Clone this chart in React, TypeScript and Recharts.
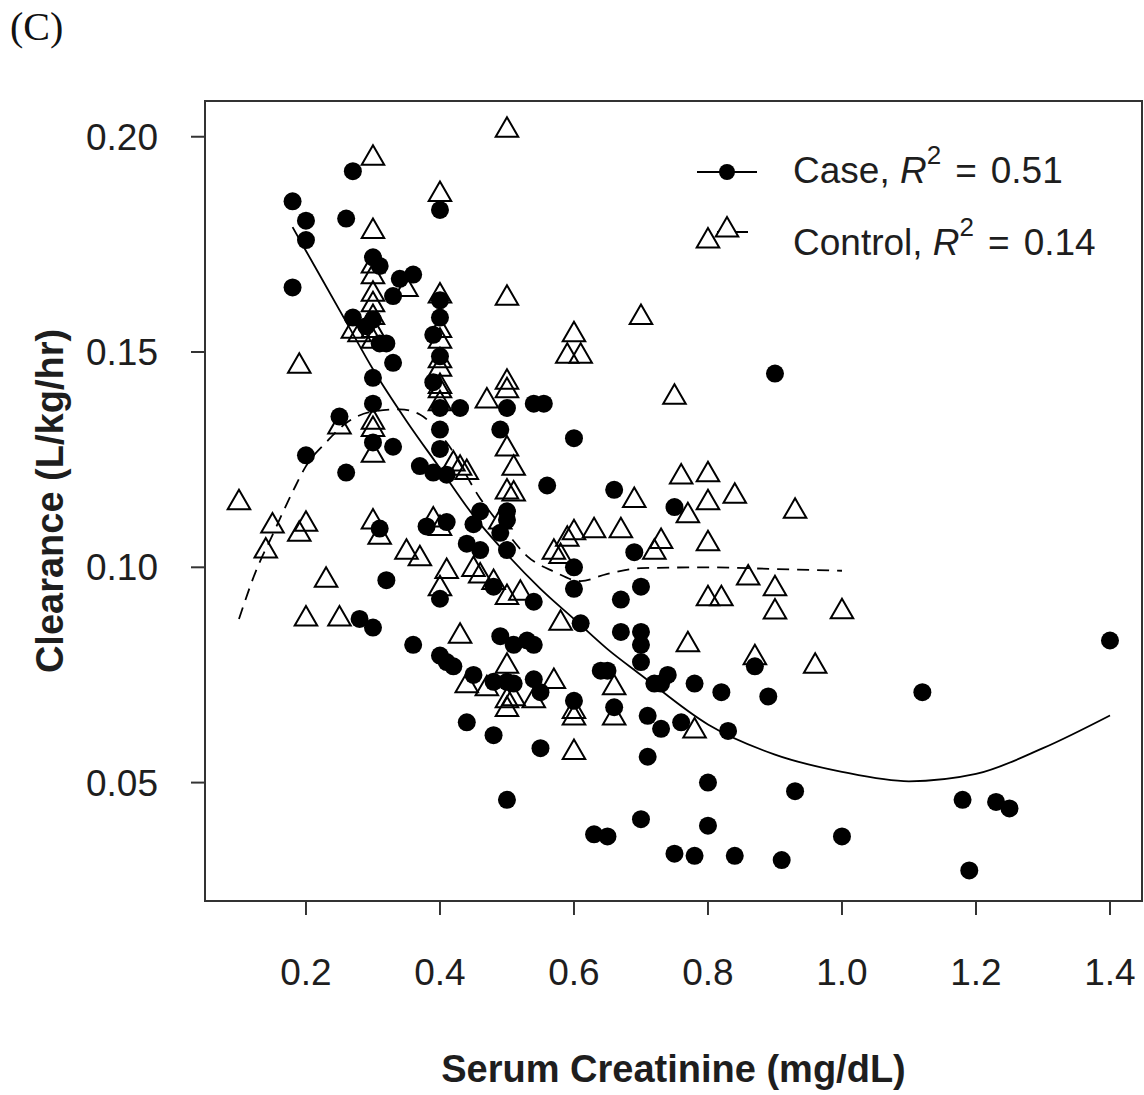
import { Legend, ReferenceArea, Scatter, ScatterChart, XAxis, YAxis } from "recharts";

// Case (filled circles)
const caseX = [
  0.18, 0.2, 0.2, 0.18, 0.27, 0.26, 0.4, 0.3, 0.31, 0.34, 0.36, 0.33, 0.27, 0.29, 0.3, 0.31, 0.32, 0.33, 0.3,
  0.4, 0.4, 0.39, 0.4, 0.39, 0.4, 0.43, 0.3, 0.25, 0.4, 0.49, 0.3, 0.33, 0.4, 0.2, 0.26, 0.37, 0.39, 0.41,
  0.5, 0.54, 0.555, 0.6, 0.9, 0.56, 0.66, 0.75, 0.46, 0.45, 0.5, 0.5, 0.49, 0.5, 0.31, 0.38, 0.41, 0.44,
  0.46, 0.69, 0.6, 0.32, 0.48, 0.6, 0.7, 0.4, 0.54, 0.67, 0.28, 0.3, 0.61, 0.49, 0.51, 0.53, 0.54, 0.67,
  0.7, 0.7, 0.7, 0.36, 0.4, 0.41, 0.42, 0.45, 0.48, 0.5, 0.51, 0.54, 0.55, 0.64, 0.65, 0.72, 0.73, 0.74,
  0.78, 0.82, 0.87, 0.89, 0.6, 0.66, 0.71, 0.73, 0.76, 0.83, 0.44, 0.48, 0.55, 0.71, 0.5, 0.8, 0.93, 0.63,
  0.65, 0.7, 0.8, 0.75, 0.78, 0.84, 0.91, 1.0, 1.12, 1.18, 1.23, 1.25, 1.19, 1.4,
];
const caseY = [
  0.185, 0.1805, 0.176, 0.165, 0.192, 0.181, 0.183, 0.172, 0.17, 0.167, 0.168, 0.163, 0.158, 0.156, 0.1575,
  0.152, 0.152, 0.1475, 0.144, 0.162, 0.158, 0.154, 0.149, 0.143, 0.137, 0.137, 0.138, 0.135, 0.132, 0.132,
  0.129, 0.128, 0.1275, 0.126, 0.122, 0.1235, 0.122, 0.1215, 0.137, 0.138, 0.138, 0.13, 0.145, 0.119, 0.118,
  0.114, 0.113, 0.11, 0.113, 0.111, 0.108, 0.104, 0.109, 0.1095, 0.1105, 0.1055, 0.104, 0.1035, 0.1, 0.097,
  0.0955, 0.095, 0.0955, 0.0927, 0.092, 0.0925, 0.088, 0.086, 0.087, 0.084, 0.082, 0.083, 0.082, 0.085,
  0.085, 0.082, 0.078, 0.082, 0.0795, 0.078, 0.077, 0.075, 0.0734, 0.0734, 0.073, 0.074, 0.071, 0.076, 0.076,
  0.073, 0.073, 0.075, 0.073, 0.071, 0.077, 0.07, 0.069, 0.0675, 0.0655, 0.0625, 0.064, 0.062, 0.064, 0.061,
  0.058, 0.056, 0.046, 0.05, 0.048, 0.038, 0.0375, 0.0415, 0.04, 0.0335, 0.033, 0.033, 0.032, 0.0375, 0.071,
  0.046, 0.0455, 0.044, 0.0296, 0.083,
];

// Control (open triangles)
const controlX = [
  0.5, 0.3, 0.4, 0.3, 0.8, 0.3, 0.3, 0.35, 0.3, 0.3, 0.4, 0.5, 0.7, 0.6, 0.59, 0.61, 0.27, 0.28, 0.3, 0.4,
  0.4, 0.19, 0.4, 0.4, 0.4, 0.47, 0.5, 0.5, 0.75, 0.3, 0.3, 0.25, 0.3, 0.5, 0.42, 0.43, 0.44, 0.51, 0.5,
  0.51, 0.76, 0.8, 0.69, 0.8, 0.77, 0.84, 0.93, 0.1, 0.15, 0.2, 0.19, 0.14, 0.3, 0.31, 0.39, 0.4, 0.49,
  0.35, 0.37, 0.57, 0.58, 0.6, 0.63, 0.67, 0.59, 0.73, 0.72, 0.8, 0.23, 0.41, 0.45, 0.46, 0.48, 0.4, 0.86,
  0.9, 0.9, 0.8, 0.82, 1.0, 0.5, 0.52, 0.2, 0.25, 0.58, 0.43, 0.77, 0.87, 0.96, 0.5, 0.57, 0.66, 0.44,
  0.47, 0.5, 0.51, 0.5, 0.54, 0.6, 0.6, 0.66, 0.78, 0.6, 0.3, 0.3, 0.4, 0.4,
];
const controlY = [
  0.2015, 0.195, 0.1866, 0.178, 0.1758, 0.17, 0.1675, 0.1645, 0.1634, 0.161, 0.163, 0.1625, 0.158, 0.154,
  0.149, 0.149, 0.1548, 0.154, 0.1525, 0.155, 0.1525, 0.1467, 0.146, 0.142, 0.138, 0.1386, 0.143, 0.141,
  0.1395, 0.1337, 0.132, 0.1326, 0.126, 0.1275, 0.124, 0.123, 0.122, 0.123, 0.1175, 0.117, 0.121, 0.1215,
  0.1155, 0.115, 0.112, 0.1165, 0.113, 0.115, 0.1096, 0.11, 0.1077, 0.1038, 0.1105, 0.107, 0.111, 0.109,
  0.1105, 0.1035, 0.102, 0.1035, 0.1025, 0.108, 0.1085, 0.1085, 0.1065, 0.106, 0.1035, 0.1055, 0.097,
  0.099, 0.0995, 0.098, 0.0965, 0.095, 0.0975, 0.095, 0.0896, 0.0927, 0.0927, 0.0897, 0.093, 0.094, 0.088,
  0.088, 0.087, 0.084, 0.082, 0.079, 0.077, 0.077, 0.0735, 0.072, 0.0725, 0.0718, 0.069, 0.0695, 0.067,
  0.069, 0.0665, 0.065, 0.065, 0.062, 0.057, 0.158, 0.155, 0.148, 0.141,
];

// smoothed fits
const caseFitX = [0.18, 0.22, 0.26, 0.3, 0.35, 0.4, 0.45, 0.5, 0.55, 0.6, 0.65, 0.7, 0.8, 0.9, 1.0, 1.1, 1.2, 1.3, 1.4];
const caseFitY = [
  0.179, 0.168, 0.157, 0.146, 0.134, 0.123, 0.112, 0.103, 0.095, 0.088, 0.081, 0.075, 0.0635, 0.0565, 0.0525,
  0.0503, 0.052, 0.058, 0.0656,
];
const controlFitX = [
  0.1, 0.125, 0.15, 0.18, 0.2, 0.23, 0.26, 0.3, 0.34, 0.37, 0.41, 0.46, 0.5, 0.53, 0.57, 0.61, 0.65, 0.7, 0.8,
  0.9, 1.0,
];
const controlFitY = [
  0.088, 0.099, 0.1075, 0.1175, 0.1235, 0.129, 0.1335, 0.1362, 0.1367, 0.1355, 0.129, 0.116, 0.108, 0.1026,
  0.099, 0.0968, 0.0985, 0.0998, 0.1, 0.0996, 0.0992,
];

const xTicks = [0.2, 0.4, 0.6, 0.8, 1.0, 1.2, 1.4];
const yTicks = [0.05, 0.1, 0.15, 0.2];
const xDomain: [number, number] = [0.0493, 1.4478];
const yDomain: [number, number] = [0.0225, 0.2083];

const toPoints = (xs: number[], ys: number[]) => xs.map((x, i) => ({ x, y: ys[i] }));
const casePoints = toPoints(caseX, caseY);
const controlPoints = toPoints(controlX, controlY);
const caseFit = toPoints(caseFitX, caseFitY);
const controlFit = toPoints(controlFitX, controlFitY);

const FONT = "'Liberation Sans', Arial, sans-serif";
const INK = "#1e1e1e";

const Dot = (props: any) => <circle cx={props.cx} cy={props.cy} r={9} fill="#000" />;

const triPoints = (cx: number, cy: number, r = 13) =>
  `${cx},${cy - r} ${cx + r * 0.866},${cy + r / 2} ${cx - r * 0.866},${cy + r / 2}`;

const Tri = (props: any) => (
  <polygon points={triPoints(props.cx, props.cy)} fill="none" stroke="#000" strokeWidth={2} />
);

const Nothing = () => <g />;

function LegendEntry({ y, name, r2 }: { y: number; name: string; r2: string }) {
  return (
    <text x={103} y={y} fontFamily={FONT} fontSize={37} fill={INK}>
      {name},{" "}
      <tspan fontStyle="italic">R</tspan>
      <tspan dy={-19} fontSize={26}>2</tspan>
      <tspan dy={19} dx={14}>=</tspan>
      <tspan dx={14}>{r2}</tspan>
    </text>
  );
}

function LegendBox() {
  return (
    <svg width={450} height={150} style={{ display: "block" }}>
      <line x1={7} y1={52} x2={67} y2={52} stroke="#000" strokeWidth={2} />
      <circle cx={37} cy={52} r={8} fill="#000" />
      <LegendEntry y={63} name="Case" r2="0.51" />
      <line x1={27} y1={112} x2={58} y2={112} stroke="#000" strokeWidth={2} />
      <polygon points={triPoints(37, 110)} fill="#fff" stroke="#000" strokeWidth={2} />
      <LegendEntry y={135} name="Control" r2="0.14" />
    </svg>
  );
}

export default function App() {
  return (
    <div style={{ position: "absolute", left: 0, top: 0, width: 1144, height: 1095, background: "#fff" }}>
      <div
        style={{
          position: "absolute",
          left: 10,
          top: 4,
          fontFamily: "'Liberation Serif', 'Times New Roman', serif",
          fontSize: 40,
          color: "#111",
          lineHeight: "46px",
        }}
      >
        (C)
      </div>
      <ScatterChart width={1144} height={1095} margin={{ top: 101, right: 2, bottom: 1, left: 0 }}>
        <XAxis
          type="number"
          dataKey="x"
          domain={xDomain}
          ticks={xTicks}
          allowDataOverflow
          axisLine={false}
          tickSize={14}
          tickMargin={44}
          height={193}
          tickLine={{ stroke: "#333", strokeWidth: 2 }}
          tick={{ fontSize: 37, fill: INK, fontFamily: FONT }}
          tickFormatter={(v: number) => v.toFixed(1)}
          label={{
            value: "Serum Creatinine (mg/dL)",
            position: "insideBottom",
            offset: 12,
            style: { fontSize: 38, fontWeight: 700, fill: INK, fontFamily: FONT },
          }}
        />
        <YAxis
          type="number"
          dataKey="y"
          domain={yDomain}
          ticks={yTicks}
          allowDataOverflow
          axisLine={false}
          width={205}
          tickSize={14}
          tickMargin={33}
          tickLine={{ stroke: "#333", strokeWidth: 2 }}
          tick={{ fontSize: 37, fill: INK, fontFamily: FONT }}
          tickFormatter={(v: number) => v.toFixed(2)}
          label={{
            value: "Clearance (L/kg/hr)",
            angle: -90,
            position: "insideLeft",
            offset: 50,
            style: { fontSize: 38, fontWeight: 700, fill: INK, fontFamily: FONT, textAnchor: "middle" },
          }}
        />
        <ReferenceArea
          x1={xDomain[0]}
          x2={xDomain[1]}
          y1={yDomain[0]}
          y2={yDomain[1]}
          fill="none"
          stroke="#333"
          strokeWidth={2}
          fillOpacity={0}
        />
        <Scatter
          data={caseFit}
          shape={Nothing}
          line={{ stroke: "#000", strokeWidth: 1.8 }}
          lineJointType="monotoneX"
          legendType="none"
          isAnimationActive={false}
        />
        <Scatter
          data={controlFit}
          shape={Nothing}
          line={{ stroke: "#000", strokeWidth: 1.8, strokeDasharray: "12 8" }}
          lineJointType="monotoneX"
          legendType="none"
          isAnimationActive={false}
        />
        <Scatter data={casePoints} shape={Dot} isAnimationActive={false} />
        <Scatter data={controlPoints} shape={Tri} isAnimationActive={false} />
        <Legend
          layout="vertical"
          align="center"
          verticalAlign="middle"
          content={() => <LegendBox />}
          wrapperStyle={{ left: 690, top: 120, width: 450, height: 150 }}
        />
      </ScatterChart>
    </div>
  );
}
